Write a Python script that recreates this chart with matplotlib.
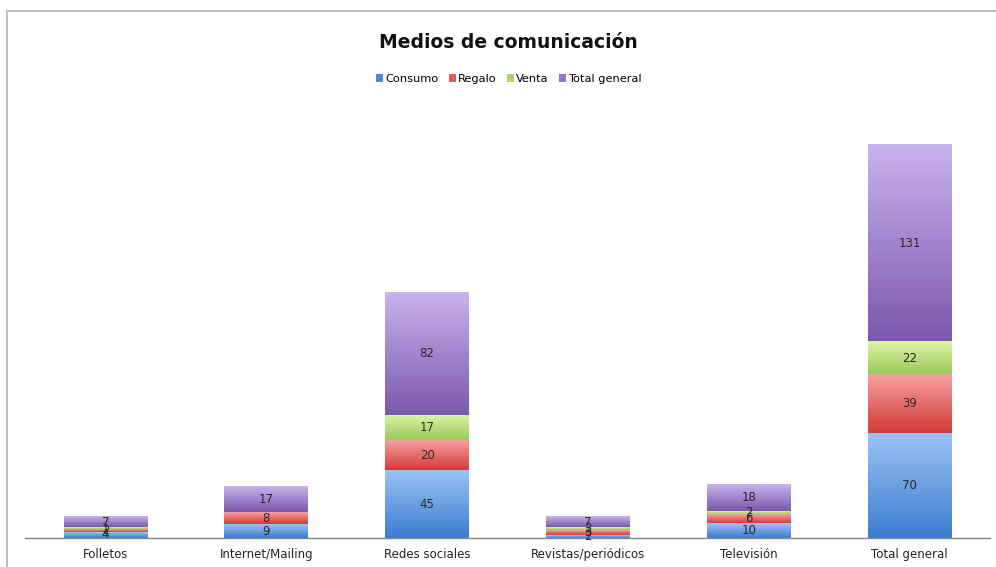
import numpy as np
import matplotlib
matplotlib.use("Agg")
import matplotlib.pyplot as plt
from matplotlib.colors import LinearSegmentedColormap
from matplotlib.lines import Line2D
from matplotlib.patches import Patch

categories = ["Folletos", "Internet/Mailing", "Redes sociales",
              "Revistas/periódicos", "Televisión", "Total general"]
series_names = ["Consumo", "Regalo", "Venta", "Total general"]
consumo = [4, 9, 45, 2, 10, 70]
regalo = [2, 8, 20, 3, 6, 39]
venta = [1, 0, 17, 2, 2, 22]
total = [7, 17, 82, 7, 18, 131]

# top / bottom colours of each gradient segment
grad = [("#9cc3f7", "#3c7ccf"),
        ("#f8a0a0", "#d23c38"),
        ("#dcf6a6", "#9bc95a"),
        ("#c9b3ec", "#7b58ad")]
legend_colors = ["#4f88d8", "#e05a5a", "#acd86a", "#9474c8"]

fig = plt.figure(figsize=(9.96, 5.67), dpi=100)
W, H = 996, 567
ax = fig.add_axes([25 / W, 1 - 538 / H, (990 - 25) / W, (538 - 103) / H])

x = np.arange(len(categories))
bottom = np.zeros(len(categories))
grad_img = np.linspace(1, 0, 256).reshape(-1, 1)
for values, (top_c, bot_c) in zip([consumo, regalo, venta, total], grad):
    vals = np.array(values, dtype=float)
    cmap = LinearSegmentedColormap.from_list("g", [bot_c, top_c])
    # solid base under the gradient so no white seams show between segments
    bars = ax.bar(x, vals, width=0.52, bottom=bottom, color=cmap(0.5),
                  edgecolor="none", zorder=1.5)
    for bar, v in zip(bars, vals):
        if v <= 0:
            continue
        bx, by = bar.get_x(), bar.get_y()
        bw, bh = bar.get_width(), bar.get_height()
        ax.imshow(grad_img, cmap=cmap, aspect="auto", vmin=0, vmax=1,
                  extent=[bx, bx + bw, by, by + bh], zorder=2, interpolation="bilinear")
        ax.text(bx + bw / 2, by + bh / 2, f"{int(v)}", ha="center", va="center",
                fontsize=8.5, color="#2a2a2a", zorder=3)
    bottom += vals

ax.set_xlim(-0.5, len(categories) - 0.5)
ax.set_ylim(0, 290)
ax.set_xticks(x)
ax.set_xticklabels(categories, fontsize=8.5, color="#222222")
ax.tick_params(axis="x", length=0, pad=7)
ax.set_yticks([])
for side in ["left", "right", "top"]:
    ax.spines[side].set_visible(False)
ax.spines["bottom"].set_color("#888888")
ax.spines["bottom"].set_linewidth(1.0)

fig.text(508 / W, 1 - 42 / H, "Medios de comunicación", ha="center", va="center",
         fontsize=13.5, fontweight="bold", color="#111111")

handles = [Patch(facecolor=c, edgecolor="none") for c in legend_colors]
fig.legend(handles, series_names, loc="center", bbox_to_anchor=(509 / W, 1 - 79 / H),
           ncol=4, frameon=False, fontsize=8.2, handlelength=0.6, handleheight=0.6,
           handletextpad=0.2, columnspacing=0.9)

# outer chart frame
fig.add_artist(Line2D([7 / W, 7 / W], [0, 1 - 11 / H], color="#c0c0c0", lw=1.5))
fig.add_artist(Line2D([7 / W, 1], [1 - 11 / H, 1 - 11 / H], color="#c0c0c0", lw=1.5))

fig.savefig("out.png", dpi=100)
